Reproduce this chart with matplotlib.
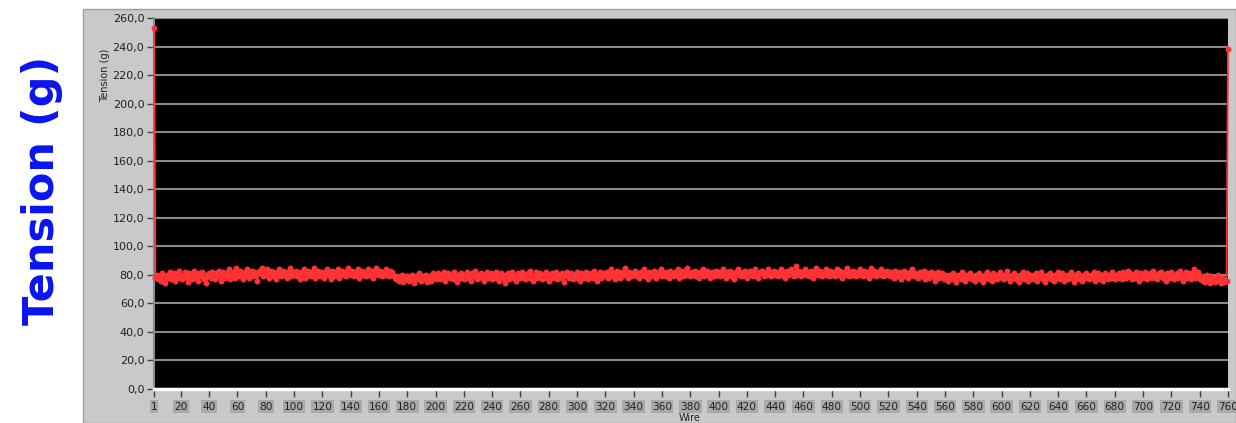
import matplotlib.pyplot as plt
from matplotlib.patches import Rectangle

# tension per wire (wire 1..760), grams
tension = [
    253, 78, 80, 77, 79, 76, 81, 79, 74, 80, 78, 82, 77, 79, 81, 76, 80, 78, 83, 79,
    77, 80, 82, 78, 75, 81, 79, 77, 83, 80, 78, 76, 81, 79, 82, 77, 80, 74, 79, 81,
    78, 82, 80, 77, 81, 79, 83, 76, 80, 82, 78, 81, 79, 84, 77, 80, 82, 78, 85, 80,
    79, 83, 81, 77, 82, 80, 84, 78, 81, 83, 79, 82, 80, 76, 83, 81, 85, 79, 82, 80,
    84, 78, 81, 83, 79, 82, 77, 80, 84, 81, 79, 83, 80, 82, 78, 81, 85, 79, 82, 80,
    83, 79, 81, 77, 82, 80, 84, 78, 81, 83, 79, 82, 80, 85, 78, 81, 83, 79, 82, 80,
    78, 82, 84, 80, 81, 77, 83, 79, 82, 80, 84, 78, 81, 83, 80, 82, 79, 85, 81, 80,
    83, 79, 82, 80, 84, 78, 81, 83, 80, 82, 79, 84, 81, 80, 83, 78, 82, 85, 80, 81,
    83, 79, 82, 80, 84, 81, 79, 83, 82, 80, 78, 77, 79, 76, 78, 80, 75, 78, 77, 79,
    76, 78, 80, 77, 74, 79, 77, 81, 78, 76, 79, 77, 80, 75, 78, 79, 76, 81, 78, 77,
    79, 81, 77, 80, 78, 82, 76, 79, 81, 78, 80, 77, 82, 79, 75, 80, 78, 81, 79, 77,
    80, 82, 78, 79, 76, 81, 79, 83, 77, 80, 78, 81, 79, 76, 80, 82, 78, 79, 81, 77,
    80, 78, 82, 79, 76, 81, 78, 80, 74, 79, 81, 77, 80, 82, 78, 79, 76, 81, 80, 78,
    82, 79, 77, 80, 81, 78, 83, 79, 76, 80, 82, 78, 79, 81, 77, 80, 78, 82, 79, 76,
    80, 81, 78, 79, 82, 77, 80, 78, 81, 79, 75, 80, 82, 78, 79, 81, 77, 80, 78, 82,
    79, 76, 81, 80, 78, 82, 79, 77, 80, 81, 78, 83, 79, 76, 80, 82, 78, 81, 79, 80,
    82, 78, 80, 84, 79, 81, 77, 83, 80, 78, 82, 79, 81, 85, 80, 78, 82, 79, 81, 80,
    83, 79, 81, 78, 82, 80, 84, 79, 81, 77, 82, 80, 79, 83, 81, 78, 82, 80, 84, 79,
    81, 79, 82, 80, 78, 83, 81, 79, 82, 80, 84, 78, 81, 83, 79, 82, 80, 85, 81, 79,
    82, 80, 83, 79, 81, 78, 82, 80, 84, 79, 81, 83, 80, 78, 82, 81, 79, 83, 80, 82,
    79, 81, 84, 80, 78, 82, 80, 83, 79, 81, 77, 82, 80, 84, 81, 79, 82, 80, 83, 78,
    81, 83, 80, 79, 82, 84, 80, 78, 82, 81, 83, 79, 81, 80, 84, 82, 79, 81, 83, 80,
    82, 79, 81, 84, 80, 82, 78, 83, 81, 80, 84, 82, 79, 81, 86, 80, 83, 79, 82, 81,
    84, 80, 82, 79, 83, 81, 78, 82, 85, 80, 81, 83, 79, 82, 80, 84, 81, 79, 83, 80,
    82, 79, 81, 84, 80, 83, 78, 81, 82, 80, 85, 79, 82, 80, 83, 81, 79, 82, 80, 84,
    81, 79, 83, 80, 82, 78, 81, 85, 80, 83, 79, 82, 81, 80, 84, 79, 82, 80, 83, 81,
    79, 82, 80, 78, 83, 81, 79, 82, 77, 80, 83, 79, 81, 78, 82, 80, 84, 79, 81, 80,
    78, 82, 80, 79, 83, 77, 81, 80, 78, 82, 79, 81, 76, 80, 82, 78, 79, 81, 77, 80,
    78, 76, 80, 79, 77, 81, 78, 75, 80, 79, 77, 82, 78, 76, 80, 79, 78, 81, 77, 79,
    76, 80, 78, 81, 77, 79, 75, 80, 78, 82, 77, 79, 76, 81, 78, 80, 77, 79, 82, 78,
    80, 77, 79, 83, 78, 76, 80, 78, 81, 77, 79, 75, 80, 78, 82, 77, 79, 81, 76, 78,
    80, 77, 79, 81, 76, 78, 80, 82, 77, 79, 75, 80, 78, 81, 77, 79, 76, 80, 78, 82,
    77, 79, 81, 76, 78, 80, 77, 79, 82, 78, 75, 80, 78, 81, 77, 79, 76, 80, 78, 81,
    79, 77, 80, 78, 82, 76, 79, 81, 77, 80, 78, 76, 81, 79, 77, 80, 78, 82, 79, 77,
    80, 78, 81, 79, 77, 82, 80, 78, 83, 79, 81, 77, 80, 78, 82, 79, 76, 81, 80, 78,
    82, 79, 77, 80, 81, 78, 83, 79, 80, 77, 81, 79, 82, 78, 80, 76, 81, 79, 78, 82,
    79, 77, 80, 81, 78, 83, 79, 76, 80, 82, 78, 79, 81, 77, 80, 84, 78, 79, 82, 77,
    79, 76, 78, 75, 80, 77, 74, 79, 76, 78, 75, 77, 80, 76, 74, 78, 77, 75, 76, 238,
]
wires = list(range(1, len(tension) + 1))

x_ticks = [1] + list(range(20, 761, 20))
y_ticks = list(range(0, 261, 20))

fig = plt.figure(figsize=(12.36, 4.23), dpi=100, facecolor='white')

# gray panel behind the graph
fig.patches.append(Rectangle((83 / 1236, 0), 1 - 83 / 1236, 1 - 9 / 423,
                             transform=fig.transFigure, facecolor='#c9c9c9',
                             edgecolor='#a0a0a0', linewidth=1, zorder=-10))

ax = fig.add_axes([154 / 1236, 1 - 389 / 423, 1074 / 1236, 371 / 423])
ax.set_zorder(5)
ax.set_facecolor('black')

# horizontal grid
ax.yaxis.grid(color='#8a8a8a', linestyle='solid', linewidth=1.5)
ax.set_axisbelow(True)

ax.plot(wires, tension, color='#ff3333', linewidth=1.3, marker='o',
        markersize=4.3, markeredgewidth=0, clip_on=False, zorder=4)

ax.set_xlim(1, 760)
ax.set_ylim(0, 260)
ax.set_xticks(x_ticks)
ax.set_yticks(y_ticks)
ax.set_yticklabels([f'{v},0' for v in y_ticks])
ax.set_xticklabels([str(v) for v in x_ticks])

ax.tick_params(axis='y', direction='out', length=5, width=1, color='#404040',
               labelsize=8, labelcolor='#202020', pad=2)
ax.tick_params(axis='x', direction='out', length=6, width=1, color='#404040',
               labelsize=7.6, labelcolor='#202020', pad=3)
for lbl in ax.get_xticklabels():
    lbl.set_bbox(dict(facecolor='#a9a9a9', edgecolor='none', pad=0.8))

for side in ['top', 'right']:
    ax.spines[side].set_visible(False)
ax.spines['left'].set_color('#7d8fa0')
ax.spines['left'].set_linewidth(1.5)
ax.spines['bottom'].set_color('white')
ax.spines['bottom'].set_linewidth(2.5)

# small axis titles
fig.text(105 / 1236, 1 - 75 / 423, 'Tension (g)', rotation=90, ha='center',
         va='center', fontsize=7, color='#202020')
fig.text(690 / 1236, 1 - 418 / 423, 'Wire', ha='center', va='center',
         fontsize=7, color='#202020')

# large label on the left
fig.text(42 / 1236, 1 - 190 / 423, 'Tension (g)', rotation=90, ha='center',
         va='center', fontsize=31, fontweight='bold', color='#0a14f0')

plt.savefig('out.png', dpi=100, facecolor='white')
